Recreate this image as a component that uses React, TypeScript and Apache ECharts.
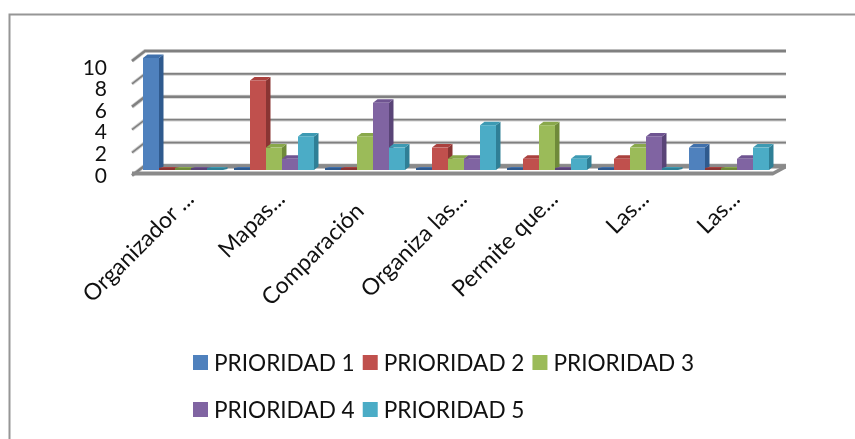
import React, { useEffect, useRef } from "react";
import * as echarts from "echarts";

const categories = ["Organizador ...", "Mapas...", "Comparación", "Organiza las...", "Permite que...", "Las...", "Las..."];
const seriesNames = ["PRIORIDAD 1", "PRIORIDAD 2", "PRIORIDAD 3", "PRIORIDAD 4", "PRIORIDAD 5"];
const prioridad1 = [10, 0, 0, 0, 0, 0, 2];
const prioridad2 = [0, 8, 0, 2, 1, 1, 0];
const prioridad3 = [0, 2, 3, 1, 4, 2, 0];
const prioridad4 = [0, 1, 6, 1, 0, 3, 1];
const prioridad5 = [0, 3, 2, 4, 1, 0, 2];
const seriesValues = [prioridad1, prioridad2, prioridad3, prioridad4, prioridad5];
const colors = ["#4F81BD", "#C0504D", "#9BBB59", "#8064A2", "#4BACC6"];
const sideColors = ["#2F5A8E", "#8A3533", "#6F8A3A", "#594477", "#2F7F96"];
const topColors = ["#3F70AC", "#AA413E", "#89A84B", "#6F5491", "#3D9AB3"];
const yTicks = [0, 2, 4, 6, 8, 10];
const FONT = "Lato, 'Open Sans', sans-serif";

export default function App() {
  const ref = useRef<HTMLDivElement>(null);
  useEffect(() => {
    document.body.style.margin = "0";
    const chart = echarts.init(ref.current!, undefined, { renderer: "svg" });
    const DX = 13, DY = 10;
    const wallSeries = {
      type: "custom", xAxisIndex: 1, yAxisIndex: 1, silent: true, z: 1, clip: false,
      data: yTicks.map((v) => [0, v]),
      renderItem: (_: any, api: any) => {
        const v = api.value(1);
        const a = api.coord([0, v]);
        const b = api.coord([1, v]);
        const heavy = v === 0 || v === 10 || v === 6;
        const pts = [[a[0] - DX, a[1] + DY], a, b];
        const children: any[] = [
          { type: "polyline", shape: { points: pts }, style: { fill: "none", stroke: "#D2D2D2", lineWidth: heavy ? 4 : 3.5 } },
          { type: "polyline", shape: { points: pts }, style: { fill: "none", stroke: "#808080", lineWidth: heavy ? 2.4 : 1.6 } },
        ];
        if (v === 0) {
          children.push({
            type: "polygon",
            shape: { points: [[a[0], a[1] - 1], [b[0], a[1] - 1], [b[0], a[1] + 3], [a[0], a[1] + 3]] },
            style: { fill: "#8A8A8A" },
          });
          children.push({
            type: "polygon",
            shape: { points: [[a[0] - DX, a[1] + 6], [b[0] - DX, a[1] + 6], [b[0], a[1] - 1], [b[0], a[1] + 3], [b[0] - DX, a[1] + 10], [a[0] - DX, a[1] + 10]] },
            style: { fill: "#8A8A8A" },
          });
        }
        return { type: "group", children };
      },
    };
    const tickLabelSeries = {
      type: "custom", xAxisIndex: 2, yAxisIndex: 2, silent: true, z: 2, clip: false,
      data: yTicks.map((v) => [1, v]),
      renderItem: (_: any, api: any) => {
        const v = api.value(1);
        const p = api.coord([1, v]);
        return {
          type: "text",
          x: p[0],
          y: p[1],
          style: { text: String(v), align: "right", verticalAlign: "middle", fontFamily: FONT, fontSize: 21, fill: "#111" },
        };
      },
    };
    const barSeries = seriesNames.map((name, si) => ({
      type: "custom", name, xAxisIndex: 0, yAxisIndex: 0, z: 3, clip: false,
      itemStyle: { color: colors[si] },
      data: seriesValues[si].map((v, i) => [i, v]),
      renderItem: (_: any, api: any) => {
        const c = api.value(0);
        const v = api.value(1);
        const base = api.coord([c, 0]);
        const top = api.coord([c, v]);
        const band = api.size([1, 0])[0];
        const barW = band * 0.1758;
        const x0 = base[0] - (barW * 5) / 2 + si * barW;
        const x1 = x0 + barW;
        const y1 = base[1];
        const y0 = v === 0 ? y1 - 2 : top[1];
        const ox = 4.5, oy = v === 0 ? 1 : 3.5;
        return {
          type: "group",
          children: [
            { type: "polygon", shape: { points: [[x1, y0], [x1 + ox, y0 - oy], [x1 + ox, y1 - oy], [x1, y1]] }, style: { fill: sideColors[si] } },
            { type: "polygon", shape: { points: [[x0, y0], [x0 + ox, y0 - oy], [x1 + ox, y0 - oy], [x1, y0]] }, style: { fill: topColors[si] } },
            { type: "rect", shape: { x: x0, y: y0, width: barW, height: y1 - y0 }, style: { fill: v === 0 ? sideColors[si] : colors[si] } },
          ],
        };
      },
    }));
    const legendBase = {
      orient: "horizontal", icon: "rect", itemWidth: 15, itemHeight: 15, itemGap: 8,
      textStyle: { fontFamily: FONT, fontSize: 22.6, color: "#111", padding: [0, 0, 0, 1] },
      selectedMode: false, padding: 0,
    };
    chart.setOption({
      animation: false,
      backgroundColor: "#fff",
      graphic: [{ type: "rect", shape: { x: 9.5, y: 14.5, width: 900, height: 470 }, style: { fill: "none", stroke: "#969696", lineWidth: 2 }, z: 0 }],
      legend: [
        { ...legendBase, left: 193, top: 351, data: seriesNames.slice(0, 3) },
        { ...legendBase, left: 193, top: 398, data: seriesNames.slice(3) },
      ],
      grid: [
        { left: 137.5, top: 58, width: 637, height: 112 },
        { left: 145, top: 51, width: 641, height: 114.5 },
        { left: 87, top: 66, width: 20, height: 108 },
        { left: 143.5, top: 58, width: 637, height: 112 },
      ],
      xAxis: [
        { type: "category", gridIndex: 0, data: categories, show: false },
        { type: "value", gridIndex: 1, min: 0, max: 1, show: false },
        { type: "value", gridIndex: 2, min: 0, max: 1, show: false },
        {
          type: "category", gridIndex: 3,
          data: categories.map((c) => (c.endsWith("...") ? c : { value: c, textStyle: { padding: [0, 17, 0, 0] } })),
          axisLine: { show: false }, axisTick: { show: false },
          axisLabel: { interval: 0, rotate: 45, fontFamily: FONT, fontSize: 23, color: "#111", margin: 24 },
        },
      ],
      yAxis: [
        { type: "value", gridIndex: 0, min: 0, max: 10, show: false },
        { type: "value", gridIndex: 1, min: 0, max: 10, show: false },
        { type: "value", gridIndex: 2, min: 0, max: 10, interval: 2, show: false },
        { type: "value", gridIndex: 3, min: 0, max: 10, show: false },
      ],
      series: [wallSeries, tickLabelSeries, ...barSeries],
    });
    return () => chart.dispose();
  }, []);
  return <div ref={ref} style={{ width: 855, height: 439, filter: "blur(0.4px)" }} />;
}
